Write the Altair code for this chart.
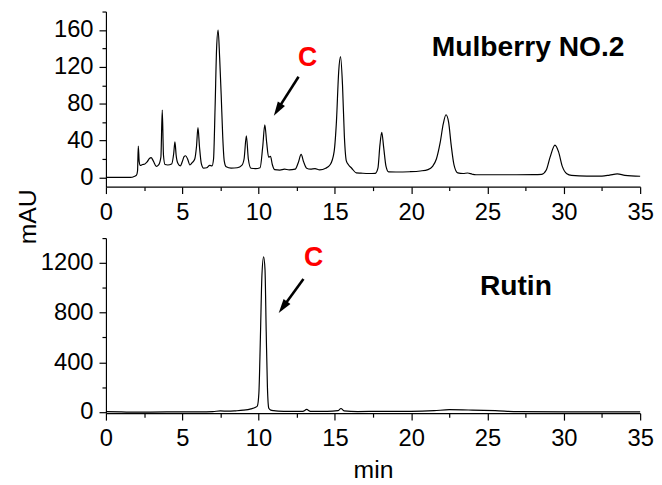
import altair as alt
import pandas as pd

# ---------------- data ----------------
mulberry_time = [0.0, 1.6, 1.85, 2.0, 2.07, 2.12, 2.18, 2.25, 2.4, 2.55, 2.7, 2.85, 2.96, 3.1, 3.3,
                 3.45, 3.6, 3.69, 3.77, 3.87, 4.05, 4.3, 4.44, 4.52, 4.6, 4.72, 4.87, 5.0, 5.12,
                 5.22, 5.35, 5.5, 5.65, 5.82, 5.93, 6.03, 6.13, 6.25, 6.4, 6.6, 6.8, 6.95, 7.05,
                 7.15, 7.25, 7.35, 7.45, 7.55, 7.65, 7.75, 7.88, 8.2, 8.6, 8.9, 9.05, 9.2, 9.33,
                 9.5, 9.8, 10.1, 10.27, 10.41, 10.53, 10.66, 10.78, 10.9, 11.05, 11.4, 11.7, 12.0,
                 12.4, 12.6, 12.79, 12.95, 13.15, 13.4, 13.7, 14.0, 14.4, 14.7, 14.95, 15.1, 15.25,
                 15.37, 15.5, 15.62, 15.75, 15.9, 16.1, 16.4, 16.7, 17.2, 17.65, 17.82, 17.95,
                 18.07, 18.2, 18.35, 18.52, 19.0, 19.9, 20.6, 21.1, 21.4, 21.65, 21.9, 22.1, 22.28,
                 22.45, 22.62, 22.8, 23.05, 23.4, 23.7, 24.0, 24.24, 26.0, 28.0, 28.55, 28.85,
                 29.1, 29.42, 29.65, 29.9, 30.2, 30.5, 31.5, 32.5, 33.0, 33.5, 34.0, 35.0]
mulberry_mau = [0, 0, 1, 2.5, 7, 34, 17, 13, 14, 14.5, 17, 20.5, 21.5, 18, 12,
                13.5, 22, 73, 24, 14, 13.5, 14.5, 26, 38.7, 24, 15, 12.5, 17, 22.5,
                23.5, 20, 13.5, 16, 20, 33, 54, 33, 15, 10, 10.5, 13, 12.5, 20,
                75, 140, 160, 130, 90, 45, 18, 11.5, 10, 10.5, 13, 20, 45, 20,
                10, 9.5, 10.5, 33, 57, 38, 22, 23, 14, 8.5, 8, 9, 8.3,
                9, 16, 25, 17, 10, 9, 9.5, 8.3, 10, 14, 28, 60, 115,
                131, 100, 45, 18, 13.5, 10, 5, 4.7, 4.3, 4.5, 10, 35,
                49, 32, 12, 6, 5.9, 6.2, 7, 8.5, 12, 20, 38, 58, 68,
                60, 35, 14, 5, 4.3, 4.8, 3.5, 2.9, 2.9, 3, 3.4, 8,
                22, 35, 28, 12, 4, 2.2, 1.5, 1.5, 2.5, 3.8, 2.3, 1.3]

rutin_time = [0.0, 1.0, 2.0, 4.0, 6.0, 7.0, 7.5, 8.0, 8.5, 9.0, 9.5, 9.8, 9.92, 10.02, 10.12,
              10.22, 10.33, 10.42, 10.5, 10.58, 10.67, 10.8, 11.0, 11.3, 12.0, 12.9, 13.15, 13.4,
              14.5, 15.2, 15.4, 15.6, 16.5, 18.0, 20.0, 21.5, 22.5, 24.0, 25.5, 27.0, 30.0, 35.0]
rutin_mau = [2, 0, -2, 0, 1, 3, 8, 6, 9, 14, 25, 38, 48, 150, 600,
             1100, 1250, 1150, 650, 200, 30, 15, 10, 7, 5, 5, 20, 5,
             5, 10, 28, 8, 3, 5, 5, 10, 18, 15, 10, 2, 0, 0]

x_major = [0, 5, 10, 15, 20, 25, 30, 35]
x_minor = [2.5, 7.5, 12.5, 17.5, 22.5, 27.5, 32.5]
mulberry_y_major = [0, 40, 80, 120, 160]
mulberry_y_minor = [20, 60, 100, 140, 180]
rutin_y_major = [0, 400, 800, 1200]
rutin_y_minor = [200, 600, 1000, 1400]

sample_names = ["Mulberry NO.2", "Rutin"]
name_x = [21.35, 24.5]
name_y = [131.4, 943]
peak_label = ["C", "C"]
peak_label_x = [13.22, 13.61]
peak_label_y = [121, 1177]
arrow_tail_x = [12.62, 12.94]
arrow_tail_y = [109.2, 1071]
arrow_end_x = [11.34, 11.70]
arrow_end_y = [76, 861]
arrow_tip_x = [11.0, 11.32]
arrow_tip_y = [67, 797]

FONT = "Liberation Sans"
HEAD = "M0,0 L-0.9,3 L0.9,3 Z"


def panel(i, times, values, ydomain, ymajor, yminor, angle, ytitle, xtitle):
    df = pd.DataFrame({"t": times, "v": values})
    xs = alt.Scale(domain=[0, 35], nice=False, zero=False)
    ys = alt.Scale(domain=ydomain, nice=False, zero=False)
    common = dict(domainColor="black", domainWidth=1.2, tickColor="black", tickWidth=1.2,
                  grid=False, labelFont=FONT, labelFontSize=24, labelColor="black",
                  labelFlush=False, labelOverlap=False, format="d")
    xkw = dict(orient="bottom", values=x_major, tickSize=7, labelPadding=7, **common)
    if xtitle:
        xkw.update(title=xtitle, titleFont=FONT, titleFontSize=25, titleFontWeight="normal",
                   titleColor="black", titleY=65, titleBaseline="alphabetic")
    else:
        xkw.update(title=None)
    ykw = dict(orient="left", values=ymajor, tickSize=7, labelPadding=6, **common)
    if ytitle:
        ykw.update(title=ytitle, titleFont=FONT, titleFontSize=25, titleFontWeight="normal",
                   titleColor="black", titleX=-71, titleY=207, titleAngle=270,
                   titleAlign="center", titleBaseline="alphabetic")
    else:
        ykw.update(title=None)

    line = alt.Chart(df).mark_line(color="black", strokeWidth=1.2, interpolate="monotone").encode(
        x=alt.X("t:Q", scale=xs, axis=alt.Axis(**xkw)),
        y=alt.Y("v:Q", scale=ys, axis=alt.Axis(**ykw)),
    )
    minor = alt.Chart(df).mark_line(strokeOpacity=0).encode(
        x=alt.X("t:Q", scale=xs, axis=alt.Axis(orient="bottom", values=x_minor, tickSize=4,
                                                tickColor="black", tickWidth=1.2, labels=False,
                                                domain=False, grid=False, title=None)),
        y=alt.Y("v:Q", scale=ys, axis=alt.Axis(orient="left", values=yminor, tickSize=4,
                                                tickColor="black", tickWidth=1.2, labels=False,
                                                domain=False, grid=False, title=None)),
    )
    ann = pd.DataFrame({
        "name": [sample_names[i]], "nx": [name_x[i]], "ny": [name_y[i]],
        "c": [peak_label[i]], "cx": [peak_label_x[i]], "cy": [peak_label_y[i]],
        "ax0": [arrow_tail_x[i]], "ay0": [arrow_tail_y[i]],
        "ax1": [arrow_end_x[i]], "ay1": [arrow_end_y[i]],
        "tx": [arrow_tip_x[i]], "ty": [arrow_tip_y[i]],
    })
    base = alt.Chart(ann)
    name_text = base.mark_text(font=FONT, fontSize=28.5, fontWeight="bold", color="black",
                               align="left", baseline="alphabetic").encode(
        x=alt.X("nx:Q", scale=xs, axis=None), y=alt.Y("ny:Q", scale=ys, axis=None), text="name:N")
    c_text = base.mark_text(font=FONT, fontSize=27, fontWeight="bold", color="#ff0000",
                            align="center", baseline="alphabetic").encode(
        x=alt.X("cx:Q", scale=xs, axis=None), y=alt.Y("cy:Q", scale=ys, axis=None), text="c:N")
    shaft = base.mark_rule(color="black", strokeWidth=2.6).encode(
        x=alt.X("ax0:Q", scale=xs, axis=None), y=alt.Y("ay0:Q", scale=ys, axis=None),
        x2="ax1:Q", y2="ay1:Q")
    head = base.mark_point(shape=HEAD, filled=True, size=90, color="black", opacity=1,
                           strokeWidth=0, angle=angle).encode(
        x=alt.X("tx:Q", scale=xs, axis=None), y=alt.Y("ty:Q", scale=ys, axis=None))

    return alt.layer(line, minor, shaft, head, name_text, c_text).resolve_axis(
        x="independent", y="independent").properties(width=540, height=177)


top = panel(0, mulberry_time, mulberry_mau, [-10, 180], mulberry_y_major, mulberry_y_minor,
            212.5, "mAU", None)
bottom = panel(1, rutin_time, rutin_mau, [-10, 1400], rutin_y_major, rutin_y_minor,
               216, None, "min")

chart = alt.vconcat(top, bottom, spacing=52, bounds="flush").properties(
    padding={"left": 8, "top": 0, "right": 0, "bottom": 0},
    background="white",
).configure_view(strokeWidth=0)

chart.save("out.html", embed_options={"renderer": "svg", "actions": False})
